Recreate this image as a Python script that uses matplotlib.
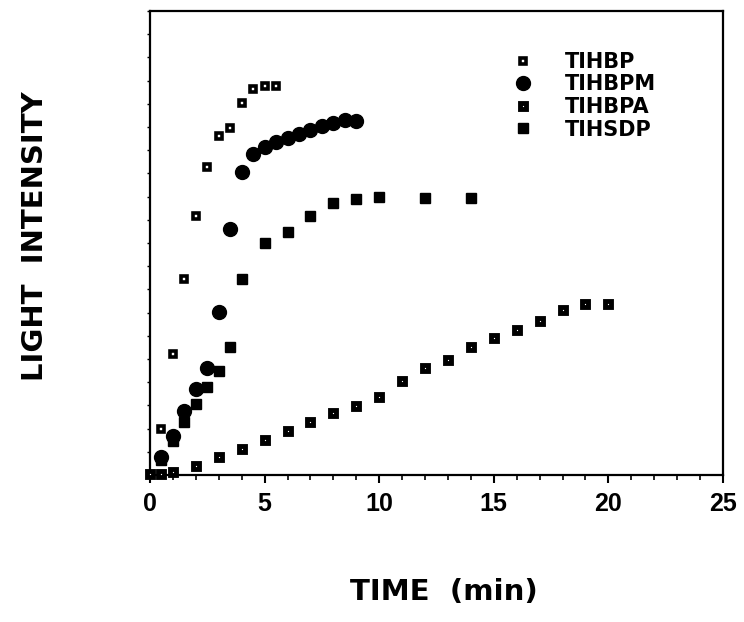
import matplotlib
matplotlib.use('Agg')
import matplotlib.pyplot as plt
from matplotlib.ticker import MultipleLocator

# data (y in arbitrary units, 0-100 = plot height)
tihbp_x = [0.5, 1.0, 1.5, 2.0, 2.5, 3.0, 3.5, 4.0, 4.5, 5.0, 5.5]
tihbp_y = [9.9, 26.1, 42.2, 55.8, 66.4, 73.1, 74.8, 80.2, 83.2, 83.8, 83.8]

tihbpm_x = [0.5, 1.0, 1.5, 2.0, 2.5, 3.0, 3.5, 4.0, 4.5, 5.0, 5.5, 6.0,
            6.5, 7.0, 7.5, 8.0, 8.5, 9.0]
tihbpm_y = [3.9, 8.4, 13.8, 18.5, 23.1, 35.1, 53.0, 65.3, 69.2, 70.7, 71.8,
            72.6, 73.5, 74.4, 75.2, 75.9, 76.5, 76.3]

tihbpa_x = [0, 0.5, 1, 2, 3, 4, 5, 6, 7, 8, 9, 10, 11, 12, 13, 14, 15, 16,
            17, 18, 19, 20]
tihbpa_y = [0.3, 0.3, 0.6, 1.9, 3.9, 5.6, 7.5, 9.5, 11.4, 13.4, 14.9, 16.8,
            20.3, 23.1, 24.8, 27.6, 29.5, 31.3, 33.2, 35.6, 36.9, 36.9]

tihsdp_x = [0.5, 1.0, 1.5, 2.0, 2.5, 3.0, 3.5, 4.0, 5.0, 6.0, 7.0, 8.0, 9.0,
            10.0, 12.0, 14.0]
tihsdp_y = [3.2, 7.3, 11.4, 15.3, 19.0, 22.4, 27.6, 42.2, 50.0, 52.4, 55.8,
            58.6, 59.5, 59.9, 59.7, 59.7]

xticks = [0, 5, 10, 15, 20, 25]

fig = plt.figure(figsize=(7.44, 6.22), dpi=100)
ax = fig.add_axes([150 / 744, 1 - 475 / 622, 573 / 744, 464 / 622])

ax.plot(tihbpa_x, tihbpa_y, 's', ms=4.2, mfc='white', mec='black', mew=3.5,
        color='black', clip_on=False, label='TIHBPA', zorder=3)
ax.plot(tihsdp_x, tihsdp_y, 's', ms=7, color='black', clip_on=False,
        label='TIHSDP', zorder=3)
ax.plot(tihbp_x, tihbp_y, 's', ms=5, mfc='white', mec='black', mew=2.6,
        color='black', clip_on=False, label='TIHBP', zorder=4)
ax.plot(tihbpm_x, tihbpm_y, 'o', ms=10, color='black', clip_on=False,
        label='TIHBPM', zorder=4)

ax.set_xlim(0, 25)
ax.set_ylim(0, 100)
ax.set_xticks(xticks)
ax.set_xticklabels([str(t) for t in xticks], fontfamily='Liberation Sans',
                   fontweight='bold', fontsize=18)
ax.xaxis.set_minor_locator(MultipleLocator(1))
ax.yaxis.set_major_locator(MultipleLocator(5))
ax.set_yticklabels([])
ax.tick_params(axis='x', which='major', direction='out', length=6, width=1.5, pad=6)
ax.tick_params(axis='x', which='minor', direction='out', length=3.5, width=1.2)
ax.tick_params(axis='y', which='major', direction='out', length=2.5, width=1)
for s in ax.spines.values():
    s.set_linewidth(1.6)

# legend in the original order
h, l = ax.get_legend_handles_labels()
order = [2, 3, 0, 1]
ax.legend([h[i] for i in order], [l[i] for i in order], loc='upper left',
          bbox_to_anchor=((513 - 150) / 573, (475 - 52) / 464), frameon=False,
          borderpad=0, borderaxespad=0, handlelength=1.0, handletextpad=1.5,
          labelspacing=0.12,
          prop={'family': 'DejaVu Sans', 'weight': 'bold', 'size': 15})

fig.text(35 / 744, 1 - 236 / 622, 'LIGHT  INTENSITY', rotation=90,
         ha='center', va='center', fontfamily='DejaVu Sans',
         fontweight='bold', fontsize=21)
fig.text(444 / 744, 1 - 592 / 622, 'TIME  (min)', ha='center', va='center',
         fontfamily='DejaVu Sans', fontweight='bold', fontsize=21)

plt.savefig('out.png', dpi=100)
